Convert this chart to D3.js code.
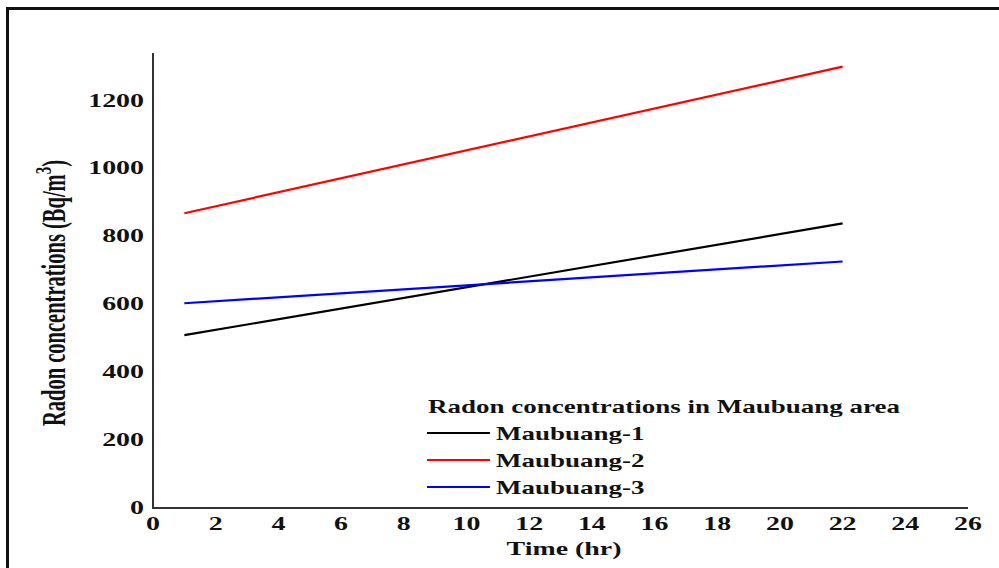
<!DOCTYPE html>
<html>
<head>
<meta charset="utf-8">
<script src="https://cdn.jsdelivr.net/npm/d3@7"></script>
<style>
  html, body { margin: 0; padding: 0; background: #fff; }
  svg { display: block; }
  text { font-family: "Liberation Serif", "Times New Roman", serif; font-weight: bold; fill: #111; }
</style>
</head>
<body>
<svg id="chart" width="999" height="568"></svg>
<script>
// Time points (hours) and radon readings (Bq/m^3) for each station
const hours = [1, 22];
const maubuang1 = [509, 838];
const maubuang2 = [868, 1300];
const maubuang3 = [603, 726];

const seriesNames = ["Maubuang-1", "Maubuang-2", "Maubuang-3"];
const seriesColors = ["#000000", "#ff0000", "#0000ff"];
const seriesValues = [maubuang1, maubuang2, maubuang3];

const xTicks = [0, 2, 4, 6, 8, 10, 12, 14, 16, 18, 20, 22, 24, 26];
const yTicks = [0, 200, 400, 600, 800, 1000, 1200];

const legendTitle = "Radon concentrations in Maubuang area";
const xTitle = "Time (hr)";
const yTitle = "Radon concentrations (Bq/m";

const SX = 1.55; // horizontal text stretch

const svg = d3.select("#chart");

// outer frame (top and left edges)
svg.append("path")
  .attr("d", "M7.5,568 L7.5,8.5 L999,8.5")
  .attr("fill", "none")
  .attr("stroke", "#111")
  .attr("stroke-width", 3);

const x = d3.scaleLinear().domain([0, 26]).range([153, 968]);
const y = d3.scaleLinear().domain([0, 1340]).range([508, 53]);

// axes
const axisColor = "#333";
svg.append("line")
  .attr("x1", x(0)).attr("x2", x(0))
  .attr("y1", y(0)).attr("y2", y(1340))
  .attr("stroke", axisColor).attr("stroke-width", 2);
svg.append("line")
  .attr("x1", x(0) - 1).attr("x2", x(26))
  .attr("y1", y(0)).attr("y2", y(0))
  .attr("stroke", axisColor).attr("stroke-width", 2);

// stretched text helper
function label(px, py, str, anchor, size, sx = SX) {
  return svg.append("text")
    .attr("transform", `translate(${px},${py}) scale(${sx},1)`)
    .attr("text-anchor", anchor)
    .attr("font-size", size)
    .text(str);
}

yTicks.forEach(v => label(144, y(v) + 6, String(v), "end", 18));
xTicks.forEach(v => label(x(v), 530, String(v), "middle", 18));

label(564, 555, xTitle, "middle", 18);

// y axis title with superscript
const yt = svg.append("text")
  .attr("transform", `translate(65,293) scale(1.6,1) rotate(-90)`)
  .attr("text-anchor", "middle")
  .attr("font-size", 20.5);
yt.append("tspan").text(yTitle);
yt.append("tspan").attr("dy", -9).attr("font-size", 15).text("3");
yt.append("tspan").attr("dy", 9).text(")");

// data lines
const line = d3.line().x(d => x(d[0])).y(d => y(d[1]));
seriesValues.forEach((vals, i) => {
  svg.append("path")
    .datum(hours.map((h, j) => [h, vals[j]]))
    .attr("d", line)
    .attr("fill", "none")
    .attr("stroke", seriesColors[i])
    .attr("stroke-width", 2.2);
});

// legend
label(428, 413, legendTitle, "start", 18, 1.5);
const legendRows = [433, 460, 487];
seriesNames.forEach((name, i) => {
  svg.append("line")
    .attr("x1", 427).attr("x2", 490)
    .attr("y1", legendRows[i]).attr("y2", legendRows[i])
    .attr("stroke", seriesColors[i]).attr("stroke-width", 2);
  label(496, legendRows[i] + 7, name, "start", 18, 1.5);
});
</script>
</body>
</html>
